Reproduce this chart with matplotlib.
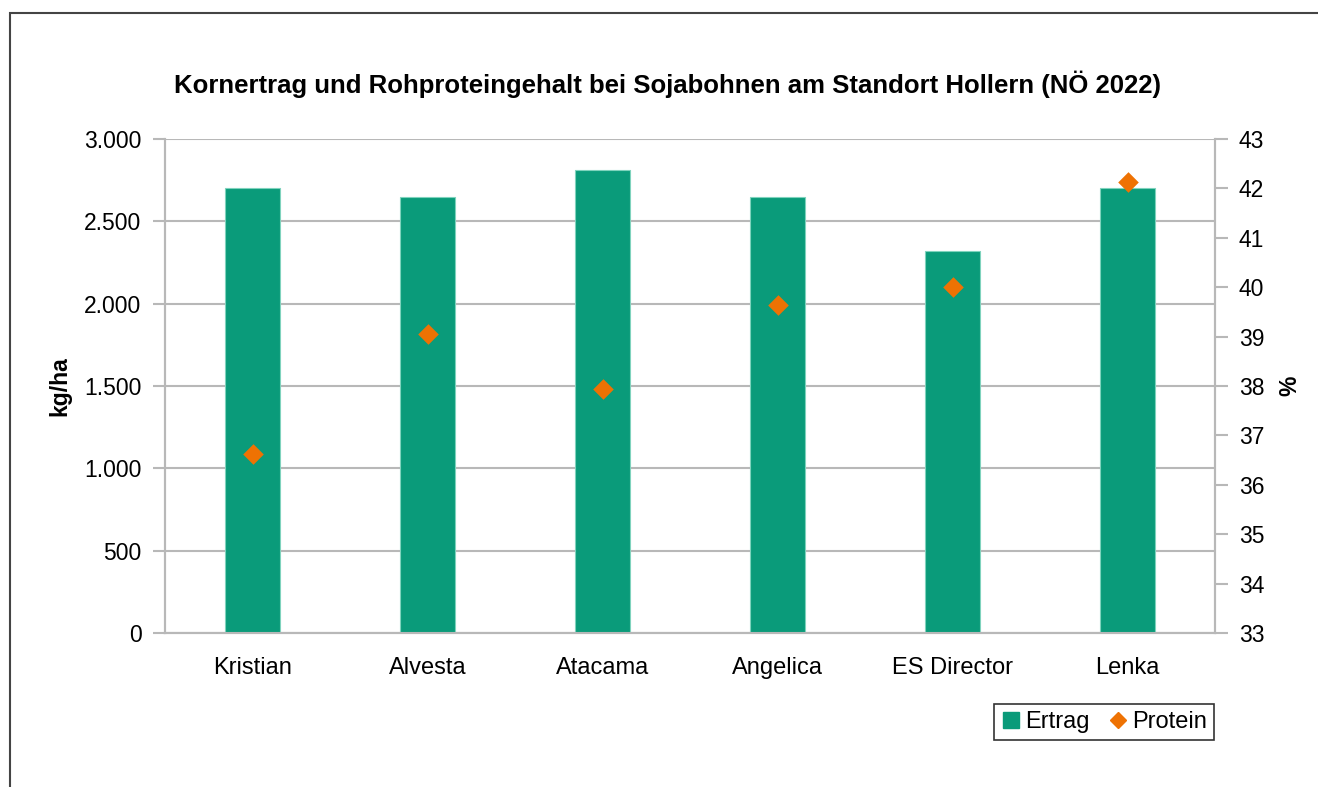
import numpy as np
import matplotlib.pyplot as plt
from matplotlib.patches import Rectangle
from matplotlib.lines import Line2D
from matplotlib.ticker import FuncFormatter

plt.rcParams['font.family'] = ['Liberation Sans', 'DejaVu Sans']

# Daten
sorten = ["Kristian", "Alvesta", "Atacama", "Angelica", "ES Director", "Lenka"]
ertrag = [2700, 2650, 2810, 2650, 2320, 2700]       # kg/ha
protein = [36.63, 39.05, 37.93, 39.63, 40.0, 42.13]  # %

gruen = "#0a9b7a"
orange = "#ee7203"
grau = "#b8b8b8"

fig = plt.figure(figsize=(13.18, 7.87), dpi=100)
ax = fig.add_axes([165 / 1318, 1 - 633 / 787, 1050 / 1318, 494 / 787])
ax2 = ax.twinx()

x = np.arange(len(sorten))
ax.bar(x, ertrag, width=0.315, color=gruen, edgecolor="#7fd3bd", linewidth=0.8, zorder=3)
ax2.scatter(x, protein, marker="D", s=110, color=orange, zorder=4, linewidths=0)

ax.set_xlim(-0.5, len(sorten) - 0.5)
ax.set_ylim(0, 3000)
ax.set_yticks(np.arange(0, 3001, 500))
ax.yaxis.set_major_formatter(FuncFormatter(lambda v, p: f"{int(v):,}".replace(",", ".")))
ax2.set_ylim(33, 43)
ax2.set_yticks(np.arange(33, 44, 1))

ax.set_xticks(x)
ax.set_xticklabels(sorten)
ax.grid(axis="y", color=grau, linewidth=1.5, zorder=0)
ax.set_axisbelow(True)

for a in (ax, ax2):
    a.spines["top"].set_visible(False)
    for s in ("left", "right", "bottom"):
        a.spines[s].set_color(grau)
        a.spines[s].set_linewidth(1.5)
    a.tick_params(axis="y", colors=grau, labelcolor="black", labelsize=16.5, length=9, width=1.5, pad=8)
ax.tick_params(axis="x", length=0, labelsize=17, pad=17)
ax.set_zorder(ax2.get_zorder() - 1)
ax.patch.set_visible(True)
ax2.patch.set_visible(False)

ax.set_ylabel("kg/ha", fontsize=16.5, fontweight="bold", labelpad=9)
ax2.set_ylabel("%", fontsize=16.5, fontweight="bold", labelpad=10)

fig.text(0.5 * (172 + 1163) / 1318, 1 - 84 / 787,
         "Kornertrag und Rohproteingehalt bei Sojabohnen am Standort Hollern (NÖ 2022)",
         ha="center", va="center", fontsize=18.5, fontweight="bold")

handles = [Line2D([], [], marker="s", linestyle="", color=gruen, markersize=11),
           Line2D([], [], marker="D", linestyle="", color=orange, markersize=8)]
leg = fig.legend(handles, ["Ertrag", "Protein"], loc="lower right",
                 bbox_to_anchor=(1214 / 1318, 1 - 740 / 787), ncol=2, fontsize=17,
                 frameon=True, fancybox=False, edgecolor="black", handlelength=0.8,
                 handletextpad=0.2, columnspacing=0.8, borderpad=0.3, borderaxespad=0)
leg.get_frame().set_linewidth(1.2)

# Rahmen um das Diagramm
fig.patches.append(Rectangle((10 / 1318, -0.05), 1.1, 1 - 13 / 787 + 0.05,
                             transform=fig.transFigure, fill=False,
                             edgecolor="#444444", linewidth=1.5))

fig.savefig("out.png", dpi=100)
